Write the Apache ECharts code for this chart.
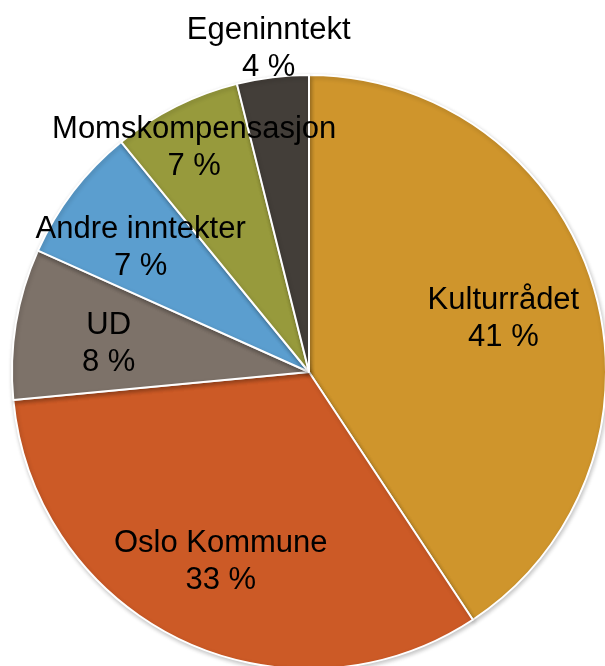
<!DOCTYPE html>
<html>
<head>
<meta charset="utf-8">
<script src="https://cdn.jsdelivr.net/npm/echarts@6/dist/echarts.min.js"></script>
<style>
  html, body { margin: 0; padding: 0; background: #ffffff; }
  #chart { width: 605px; height: 666px; }
</style>
</head>
<body>
<div id="chart"></div>
<script>
// kategorier og andeler (prosent) lest av figuren
var categories = ['Kulturrådet', 'Oslo Kommune', 'UD', 'Andre inntekter', 'Momskompensasjon', 'Egeninntekt'];
var values = [40.7, 32.8, 8.2, 7.4, 7.0, 3.9];
var colors = ['#CF952C', '#CC5A26', '#7D7269', '#5B9ECF', '#979A3C', '#433E39'];

var cx = 309, cy = 372, R = 297;
// hvor langt ut etiketten skal flyttes i forhold til standard 'inside' (r/2)
var labelPush = [1.34, 1.35, 1.34, 1.4, 1.69, 2.18];

var chart = echarts.init(document.getElementById('chart'));
chart.setOption({
  backgroundColor: '#ffffff',
  animation: false,
  series: [{
    type: 'pie',
    center: [cx, cy],
    radius: [0, R],
    startAngle: 90,
    clockwise: true,
    avoidLabelOverlap: false,
    itemStyle: {
      borderColor: '#ffffff',
      borderWidth: 2,
      shadowColor: 'rgba(0,0,0,0.22)',
      shadowBlur: 4,
      shadowOffsetX: 1,
      shadowOffsetY: 2
    },
    label: {
      show: true,
      position: 'inside',
      color: '#000000',
      fontFamily: 'Liberation Sans, Arial, sans-serif',
      fontSize: 31,
      lineHeight: 37,
      align: 'center',
      formatter: function (p) {
        return p.name + '\n' + Math.round(p.percent) + ' %';
      }
    },
    labelLine: { show: false },
    labelLayout: function (params) {
      var r = params.labelRect;
      var mx = r.x + r.width / 2, my = r.y + r.height / 2;
      var k = labelPush[params.dataIndex] - 1;
      return { dx: (mx - cx) * k, dy: (my - cy) * k + 5 };
    },
    data: categories.map(function (name, i) {
      return { name: name, value: values[i], itemStyle: { color: colors[i] } };
    })
  }]
});
</script>
</body>
</html>
